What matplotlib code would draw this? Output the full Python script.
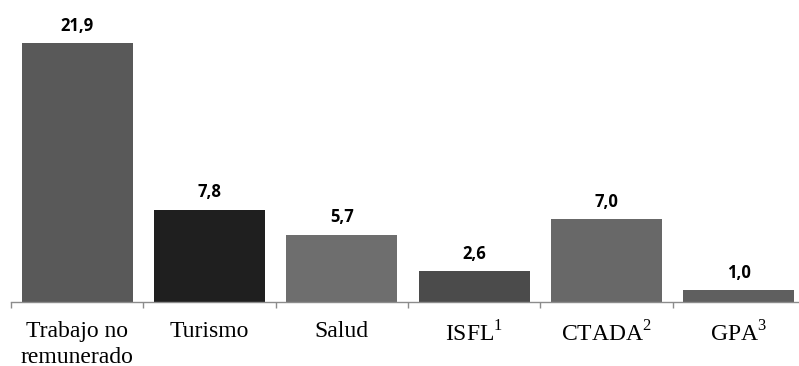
import matplotlib.pyplot as plt
import numpy as np

categorias = ['Trabajo no\nremunerado', 'Turismo', 'Salud',
              r'ISFL$^{1}$', r'CTADA$^{2}$', r'GPA$^{3}$']
valores = [21.9, 7.8, 5.7, 2.6, 7.0, 1.0]
colores = ['#595959', '#1f1f1f', '#6e6e6e', '#4b4b4b', '#686868', '#5f5f5f']

plt.rcParams['mathtext.fontset'] = 'custom'
plt.rcParams['mathtext.rm'] = 'Liberation Serif'

fig = plt.figure(figsize=(7.99, 3.66), dpi=100)
ax = fig.add_axes([11 / 799, 64 / 366, 794 / 799, 302 / 366])

x = np.arange(len(valores))
ax.bar(x, valores, width=0.84, color=colores)

for xi, v in zip(x, valores):
    ax.annotate(f'{v:.1f}'.replace('.', ','), (xi, v), xytext=(0, 6),
                textcoords='offset points', ha='center', va='bottom',
                fontsize=12, fontweight='bold', family='Open Sans')

ax.set_xlim(-0.5, len(valores) - 0.5)
ax.set_ylim(0, 25.53)

for s in ['top', 'right', 'left']:
    ax.spines[s].set_visible(False)
ax.spines['bottom'].set_color('#8c8c8c')
ax.spines['bottom'].set_linewidth(1.0)
ax.set_yticks([])

ax.set_xticks(x)
ax.set_xticklabels(categorias, family='Liberation Serif', fontsize=17,
                   linespacing=1.3)
ax.tick_params(axis='x', which='major', length=0, pad=13.5)
ax.set_xticks(np.arange(len(valores)) - 0.5, minor=True)
ax.tick_params(axis='x', which='minor', length=4, color='#8c8c8c', width=1)

fig.savefig('out.png', dpi=100)
